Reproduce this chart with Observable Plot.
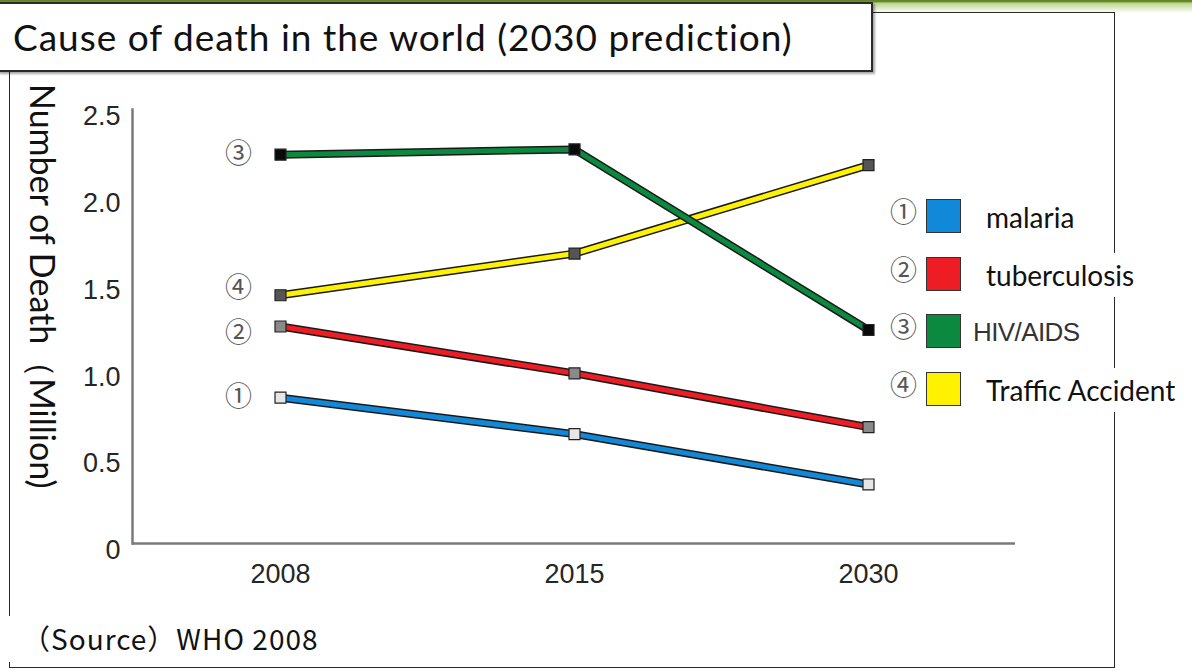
<!DOCTYPE html>
<html>
<head>
<meta charset="utf-8">
<script src="https://cdn.jsdelivr.net/npm/d3@7"></script>
<script src="https://cdn.jsdelivr.net/npm/@observablehq/plot@0.6"></script>
<style>
  html, body { margin: 0; padding: 0; background: #fff; }
  #stage { position: relative; width: 1192px; height: 671px; overflow: hidden; background: #fff; }
  #topbar { position: absolute; left: 0; top: 0; width: 1192px; height: 13px;
    background: linear-gradient(to bottom, #5f7f22 0px, #6f9030 2px, #b9d48f 3px, #dcebc6 8px, #ffffff 13px); }
  #frame { position: absolute; left: 9px; top: 12px; width: 1106px; height: 656px;
    border: 1.5px solid #2a2a2a; box-sizing: border-box; }
  #chart { position: absolute; left: 0; top: 0; }
  #title { position: absolute; left: -3px; top: 2px; width: 876px; height: 70px; box-sizing: border-box;
    border: 2px solid #2b2b2b; background: #fff; box-shadow: 2px 2px 2px rgba(0,0,0,0.35);
    font-family: Lato, "Open Sans", sans-serif; font-size: 37px; letter-spacing: 1px; color: #111;
    line-height: 66px; padding-left: 14px; white-space: nowrap; }
  #ylabel { position: absolute; left: 61px; top: 84px; transform-origin: 0 0; transform: rotate(90deg);
    font-family: Lato, "Open Sans", sans-serif; font-size: 34px; color: #111; white-space: nowrap; line-height: 36px; }
  #caption { position: absolute; left: 0px; top: 616px; width: 345px; height: 46px; background: #fff;
    font-family: "Noto Sans CJK JP", "Noto Sans", sans-serif; font-size: 28px; letter-spacing: 1px; color: #111;
    line-height: 44px; padding-left: 22px; box-sizing: border-box; white-space: nowrap; }
  #legend { position: absolute; left: 888px; top: 187px; }
  .lrow { position: relative; height: 57.5px; }
  .lnum { position: absolute; left: 2px; top: 9px; font-family: "Noto Sans CJK JP", serif; font-size: 27px; color: #555; line-height: 30px; }
  .lsw { position: absolute; left: 38px; top: 12px; width: 35px; height: 34px; border: 1.5px solid #333; box-sizing: border-box; }
  .ltxt { position: absolute; left: 98px; top: 8px; height: 44px; line-height: 44px; padding-right: 10px; background: #fff;
    font-family: Lato, "Open Sans", sans-serif; font-size: 28px; color: #111; white-space: nowrap; }
  .ltxt.arial { left: 85px; font-family: "Liberation Sans", Arial, sans-serif; font-size: 26px; color: #333; letter-spacing: -0.6px; }
</style>
</head>
<body>
<div id="stage">
  <div id="topbar"></div>
  <div id="frame"></div>
  <div id="chart"></div>
  <div id="title"></div>
  <div id="ylabel"></div>
  <div id="caption"></div>
  <div id="legend"></div>
</div>
<script>
// ---- data ----
const titleText = "Cause of death in the world (2030 prediction)";
const yLabelText = "Number of Death（Million)";
const captionText = "（Source）WHO 2008";
const years = ["2008", "2015", "2030"];
const causes = ["malaria", "tuberculosis", "HIV/AIDS", "Traffic Accident"];
const causeNumbers = ["①", "②", "③", "④"];
const malaria = [0.84, 0.63, 0.34];
const tuberculosis = [1.25, 0.98, 0.67];
const hivAids = [2.24, 2.27, 1.23];
const trafficAccident = [1.43, 1.67, 2.18];
const yTicks = [0, 0.5, 1.0, 1.5, 2.0, 2.5];
const lineColors = ["#1189d8", "#ee1c25", "#0b8a3f", "#fff200"];
const markerFills = ["#e6e6e6", "#8a8a8a", "#0a0a0a", "#555555"];
const drawOrder = ["malaria", "tuberculosis", "Traffic Accident", "HIV/AIDS"];

const seriesValues = [malaria, tuberculosis, hivAids, trafficAccident];
const rows = [];
causes.forEach((c, i) => years.forEach((y, j) => rows.push({
  cause: c, year: y, value: seriesValues[i][j], num: causeNumbers[i], marker: markerFills[i]
})));

// label nudges (style) so ② and ④ do not collide
const labelNudge = {"tuberculosis": 7, "Traffic Accident": -7};

// ---- chart ----
const marks = [
  Plot.ruleY([0], {stroke: "#7a7a7a", strokeWidth: 2.5}),
  Plot.frame({anchor: "left", stroke: "#7a7a7a", strokeWidth: 2.5}),
  Plot.axisY({ticks: yTicks, tickFormat: d => d === 0 ? "0" : d.toFixed(1), tickSize: 0, tickPadding: 12,
    fontSize: 27, dy: 7, fill: "#262626", label: null, fontFamily: "Liberation Sans, Arial, sans-serif"}),
  Plot.axisX({tickSize: 0, tickPadding: 20, fontSize: 27, fill: "#262626", label: null,
    fontFamily: "Liberation Sans, Arial, sans-serif"})
];
for (const c of drawOrder) {
  const d = rows.filter(r => r.cause === c);
  marks.push(Plot.line(d, {x: "year", y: "value", stroke: "#1a1a1a", strokeWidth: 8}));
  marks.push(Plot.line(d, {x: "year", y: "value", stroke: "cause", strokeWidth: 5}));
}
marks.push(Plot.dot(rows, {x: "year", y: "value", symbol: "square", r: 6.2, fill: "marker", stroke: "#222", strokeWidth: 1.2}));
for (const c of causes) {
  marks.push(Plot.text(rows.filter(r => r.year === years[0] && r.cause === c), {x: "year", y: "value", text: "num",
    dx: -42, dy: labelNudge[c] || 0, fontSize: 27, fill: "#555", fontFamily: "Noto Sans CJK JP, serif"}));
}

const plot = Plot.plot({
  width: 1192, height: 671,
  marginLeft: 132, marginRight: 177, marginTop: 109, marginBottom: 128,
  style: {background: "transparent", overflow: "visible"},
  x: {type: "point", domain: years, padding: 0.5},
  y: {domain: [0, 2.5]},
  color: {domain: causes, range: lineColors},
  marks
});
document.getElementById("chart").appendChild(plot);

// ---- texts & legend ----
document.getElementById("title").textContent = titleText;
document.getElementById("ylabel").textContent = yLabelText;
document.getElementById("caption").textContent = captionText;
const legend = d3.select("#legend");
causes.forEach((c, i) => {
  const row = legend.append("div").attr("class", "lrow");
  row.append("div").attr("class", "lnum").text(causeNumbers[i]);
  row.append("div").attr("class", "lsw").style("background", lineColors[i]);
  row.append("div").attr("class", c === "HIV/AIDS" ? "ltxt arial" : "ltxt").text(c);
});
</script>
</body>
</html>
